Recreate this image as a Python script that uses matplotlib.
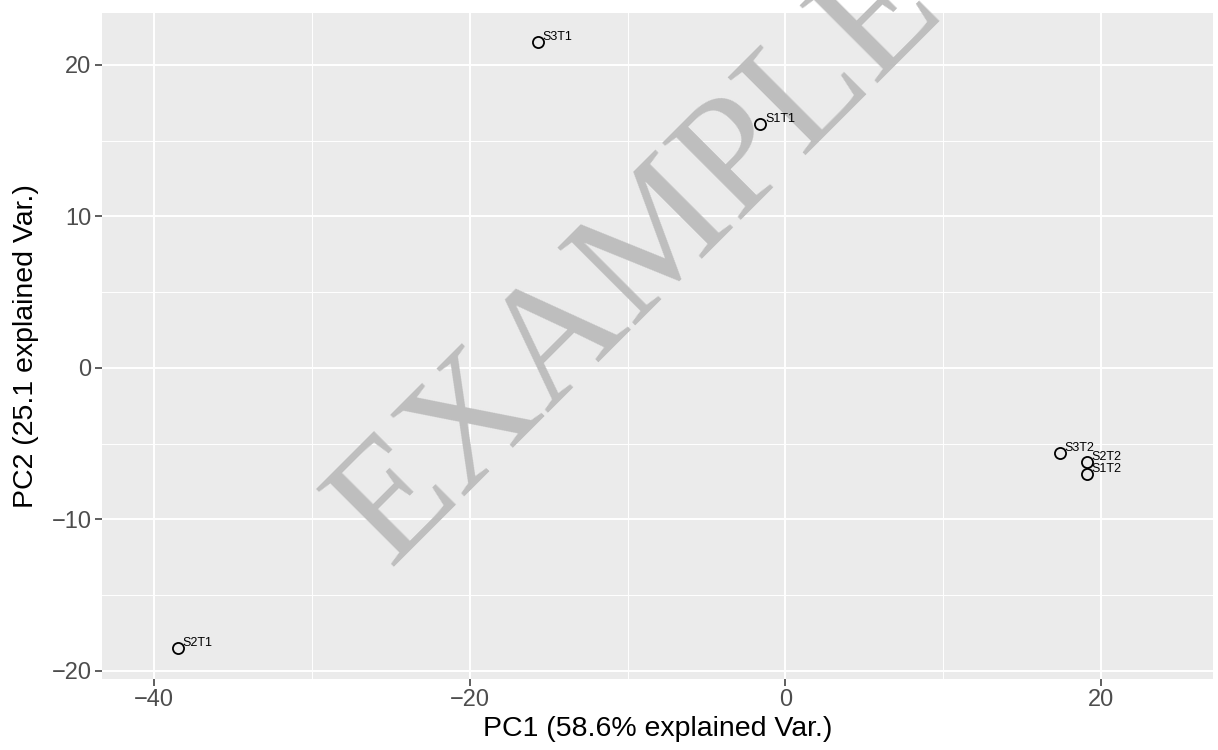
import matplotlib
matplotlib.use("Agg")
import matplotlib.pyplot as plt
from matplotlib.ticker import MultipleLocator

# PCA scores
samples = ["S3T1", "S1T1", "S2T1", "S3T2", "S2T2", "S1T2"]
pc1 = [-15.7, -1.6, -38.5, 17.4, 19.1, 19.1]
pc2 = [21.5, 16.1, -18.5, -5.6, -6.2, -7.0]

xlab = "PC1 (58.6% explained Var.)"
ylab = "PC2 (25.1 explained Var.)"

plt.rcParams['font.family'] = ['Liberation Sans', 'DejaVu Sans']

fig = plt.figure(figsize=(12.18, 7.5), dpi=100)
ax = fig.add_axes([102 / 1218, 1 - 679 / 750, (1213 - 102) / 1218, (679 - 13) / 750])
ax.set_facecolor('#ebebeb')
for s in ax.spines.values():
    s.set_visible(False)

ax.set_xlim(-43.3, 27.1)
ax.set_ylim(-20.53, 23.43)
ax.xaxis.set_major_locator(MultipleLocator(20))
ax.xaxis.set_minor_locator(MultipleLocator(10))
ax.yaxis.set_major_locator(MultipleLocator(10))
ax.yaxis.set_minor_locator(MultipleLocator(5))
ax.grid(which='major', color='white', lw=1.4)
ax.grid(which='minor', color='white', lw=0.7)
ax.set_axisbelow(True)
ax.tick_params(which='major', length=5, width=1.1, color='#333333',
               labelsize=17, labelcolor='#4d4d4d', pad=2.5)
ax.tick_params(which='minor', length=0)
fmt = plt.FuncFormatter(lambda v, p: f"{v:.0f}".replace('-', '\u2212'))
ax.xaxis.set_major_formatter(fmt)
ax.yaxis.set_major_formatter(fmt)

ax.plot(pc1, pc2, 'o', ms=8, mfc='none', mec='black', mew=1.3, zorder=4)
for name, x, y in zip(samples, pc1, pc2):
    ax.annotate(name, (x, y), xytext=(3.5, -0.5), textcoords='offset points',
                ha='left', va='bottom', fontsize=9, color='black', zorder=5)

ax.set_xlabel(xlab, fontsize=20.5, labelpad=3)
ax.set_ylabel(ylab, fontsize=20.5, labelpad=9)

# watermark, above the grid but under the points
ax.text(0.548, 0.615, "EXAMPLE", transform=fig.transFigure,
        family=['Liberation Serif', 'DejaVu Serif'],
        fontsize=120, color='#bebebe', rotation=45, rotation_mode='anchor',
        ha='center', va='baseline', zorder=2, clip_on=False)

fig.savefig("out.png", dpi=100)
